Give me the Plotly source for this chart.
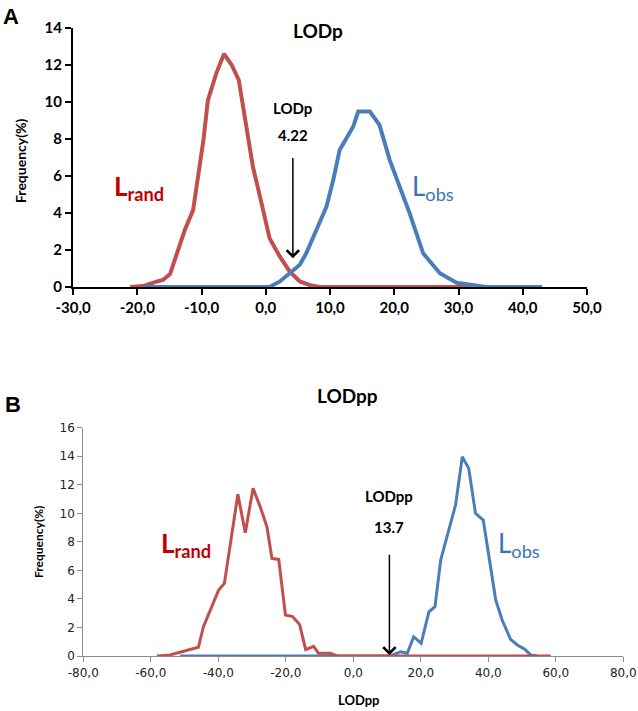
import plotly.graph_objects as go

# ---------------- Panel A (LODp) ----------------
a_rand_x = [-21.1, -19.1, -17.0, -16.0, -14.9, -12.6, -11.3, -9.7, -9.0, -7.7, -6.5, -5.3, -4.2,
            -3.0, -2.0, -0.65, 0.6, 2.2, 3.75, 5.3, 6.9, 8.4, 43.0]
a_rand_y = [0.0, 0.05, 0.29, 0.38, 0.7, 3.08, 4.16, 7.95, 10.1, 11.55, 12.6, 12.0, 11.19,
            8.49, 6.5, 4.52, 2.63, 1.64, 0.83, 0.3, 0.1, 0.0, 0.0]
a_obs_x = [-19.0, 0.6, 2.2, 3.75, 5.3, 6.3, 7.9, 9.45, 10.5, 11.5, 13.6, 14.4, 16.2, 17.7,
           19.3, 20.9, 22.4, 24.5, 27.1, 29.7, 32.8, 34.3, 43.0]
a_obs_y = [0.0, 0.0, 0.3, 0.74, 1.2, 1.82, 3.08, 4.34, 5.78, 7.4, 8.66, 9.48, 9.48, 8.76,
           6.86, 5.42, 3.98, 1.82, 0.74, 0.23, 0.1, 0.0, 0.0]
a_xticks = [-30, -20, -10, 0, 10, 20, 30, 40, 50]
a_xticklabels = ["-30,0", "-20,0", "-10,0", "0,0", "10,0", "20,0", "30,0", "40,0", "50,0"]
a_yticks = [0, 2, 4, 6, 8, 10, 12, 14]
a_lod_x = 4.22
a_lod_label = "4.22"

# ---------------- Panel B (LODpp) ----------------
b_rand_x = [-58.2, -54.3, -50.8, -48.3, -45.9, -44.4, -41.9, -39.9, -38.2, -36.5, -34.2, -32.0,
            -29.7, -27.6, -25.6, -24.1, -22.1, -20.1, -18.0, -15.9, -14.1, -11.75, -10.3, -6.8,
            -4.8, 58.5]
b_rand_y = [0.0, 0.07, 0.3, 0.47, 0.61, 2.05, 3.46, 4.62, 5.09, 7.66, 11.33, 8.64,
            11.75, 10.47, 9.06, 6.84, 6.77, 2.87, 2.76, 2.2, 0.45, 0.68, 0.19, 0.19,
            0.0, 0.0]
b_obs_x = [-51.3, 11.0, 14.0, 16.0, 17.9, 20.1, 22.4, 24.2, 25.9, 27.8, 30.3, 32.3, 34.2,
           36.2, 38.5, 42.2, 44.1, 46.6, 48.6, 50.8, 52.6, 54.5]
b_obs_y = [0.0, 0.0, 0.3, 0.19, 1.35, 0.89, 3.1, 3.46, 6.73, 8.36, 10.58, 13.97, 13.15,
           10.0, 9.53, 3.92, 2.52, 1.17, 0.77, 0.47, 0.07, 0.0]
b_xticks = [-80, -60, -40, -20, 0, 20, 40, 60, 80]
b_xticklabels = ["-80,0", "-60,0", "-40,0", "-20,0", "0,0", "20,0", "40,0", "60,0", "80,0"]
b_yticks = [0, 2, 4, 6, 8, 10, 12, 14, 16]
b_lod_x = 10.7
b_lod_label = "13.7"

RED = "#C0504D"
BLUE = "#4A7EBB"
RED_TXT = "#C00000"
BLUE_TXT = "#3A74B8"
FONT = "Lato"

fig = go.Figure()
fig.add_trace(go.Scatter(x=a_rand_x, y=a_rand_y, mode="lines", line=dict(color=RED, width=4),
                         xaxis="x", yaxis="y", showlegend=False))
fig.add_trace(go.Scatter(x=a_obs_x, y=a_obs_y, mode="lines", line=dict(color=BLUE, width=4),
                         xaxis="x", yaxis="y", showlegend=False))
fig.add_trace(go.Scatter(x=b_obs_x, y=b_obs_y, mode="lines", line=dict(color=BLUE, width=3),
                         xaxis="x2", yaxis="y2", showlegend=False))
fig.add_trace(go.Scatter(x=b_rand_x, y=b_rand_y, mode="lines", line=dict(color=RED, width=3),
                         xaxis="x2", yaxis="y2", showlegend=False))

W, H = 638, 711
def px_x(p):
    return p / W
def px_y(p):
    return (H - p) / H

fig.update_layout(
    width=W, height=H, margin=dict(l=0, r=0, t=0, b=0, autoexpand=False),
    paper_bgcolor="white", plot_bgcolor="white",
    font=dict(family=FONT, color="black"),
    xaxis=dict(domain=[px_x(73), px_x(587)], range=[-30, 50], anchor="y", automargin=False,
               tickmode="array", tickvals=a_xticks, ticktext=a_xticklabels,
               showgrid=False, zeroline=False, showline=True, linecolor="black", linewidth=2,
               ticks="outside", ticklen=6, tickwidth=2, tickcolor="black",
               tickfont=dict(family=FONT, size=15, weight="bold", color="black")),
    yaxis=dict(domain=[px_y(287), px_y(28)], range=[0, 14], anchor="x", automargin=False,
               tickmode="array", tickvals=a_yticks,
               showgrid=False, zeroline=False, showline=True, linecolor="black", linewidth=2,
               ticks="outside", ticklen=6, tickwidth=2, tickcolor="black",
               tickfont=dict(family=FONT, size=15, weight="bold", color="black")),
    xaxis2=dict(domain=[px_x(83.3), px_x(623.3)], range=[-80, 80], anchor="y2", automargin=False,
                tickmode="array", tickvals=b_xticks, ticktext=b_xticklabels,
                showgrid=False, zeroline=False, showline=True, linecolor="#8C8C8C", linewidth=1.2,
                ticks="outside", ticklen=5, tickwidth=1.2, tickcolor="#8C8C8C",
                tickfont=dict(family="DejaVu Sans", size=12, color="#222222")),
    yaxis2=dict(domain=[px_y(656), px_y(427.7)], range=[0, 16], anchor="x2", automargin=False,
                tickmode="array", tickvals=b_yticks,
                showgrid=False, zeroline=False, showline=True, linecolor="#8C8C8C", linewidth=1.2,
                ticks="outside", ticklen=5, tickwidth=1.2, tickcolor="#8C8C8C",
                tickfont=dict(family="DejaVu Sans", size=12, color="#222222")),
)

C = dict(xanchor="center", yanchor="middle", showarrow=False)
ann = []
# panel letters and titles
ann.append(dict(text="<b>A</b>", x=px_x(11), y=px_y(16), xref="paper", yref="paper",
                font=dict(family="Liberation Sans", size=22), **C))
ann.append(dict(text="<b>B</b>", x=px_x(13), y=px_y(404), xref="paper", yref="paper",
                font=dict(family="Liberation Sans", size=22), **C))
ann.append(dict(text="<b>LODp</b>", x=px_x(318), y=px_y(31), xref="paper", yref="paper",
                font=dict(size=19), **C))
ann.append(dict(text="<b>LODpp</b>", x=px_x(347), y=px_y(395), xref="paper", yref="paper",
                font=dict(size=19), **C))
# axis titles
ann.append(dict(text="<b>Frequency(%)</b>", x=px_x(20), y=px_y(160), xref="paper", yref="paper",
                textangle=-90, font=dict(size=14), **C))
ann.append(dict(text="<b>Frequency(%)</b>", x=px_x(38), y=px_y(542), xref="paper", yref="paper",
                textangle=-90, font=dict(size=12), **C))
ann.append(dict(text="<b>LODpp</b>", x=px_x(358), y=px_y(700), xref="paper", yref="paper",
                font=dict(size=13), **C))
# series labels
ann.append(dict(text="<b>L<sub>rand</sub></b>", x=-19.7, y=5.4, xref="x", yref="y",
                font=dict(size=26, color=RED_TXT), **C))
ann.append(dict(text="L<sub>obs</sub>", x=26.0, y=5.4, xref="x", yref="y",
                font=dict(size=26, color=BLUE_TXT), **C))
ann.append(dict(text="<b>L<sub>rand</sub></b>", x=-49.7, y=7.8, xref="x2", yref="y2",
                font=dict(size=26, color=RED_TXT), **C))
ann.append(dict(text="L<sub>obs</sub>", x=49.0, y=7.8, xref="x2", yref="y2",
                font=dict(size=26, color=BLUE_TXT), **C))
# LOD arrows and labels
ann.append(dict(x=a_lod_x, y=1.55, ax=a_lod_x, ay=7.05, xref="x", yref="y", axref="x", ayref="y",
                showarrow=True, arrowhead=4, arrowsize=1.6, arrowwidth=1.5, arrowcolor="black",
                text="", standoff=0))
ann.append(dict(text="<b>LODp</b>", x=a_lod_x, y=9.7, xref="x", yref="y",
                font=dict(size=15), **C))
ann.append(dict(text="<b>" + a_lod_label + "</b>", x=a_lod_x, y=8.2, xref="x", yref="y",
                font=dict(size=15), **C))
ann.append(dict(x=b_lod_x, y=0.05, ax=b_lod_x, ay=7.2, xref="x2", yref="y2", axref="x2", ayref="y2",
                showarrow=True, arrowhead=4, arrowsize=1.6, arrowwidth=1.5, arrowcolor="black",
                text="", standoff=0))
ann.append(dict(text="<b>LODpp</b>", x=b_lod_x, y=11.2, xref="x2", yref="y2",
                font=dict(size=15), **C))
ann.append(dict(text="<b>" + b_lod_label + "</b>", x=b_lod_x, y=9.06, xref="x2", yref="y2",
                font=dict(size=15), **C))
fig.update_layout(annotations=ann)

# remove the browser's default 8px page margin so the figure fills the window exactly
fig.write_html("out.html", config={"displayModeBar": False},
               post_script="document.body.style.margin='0';")
